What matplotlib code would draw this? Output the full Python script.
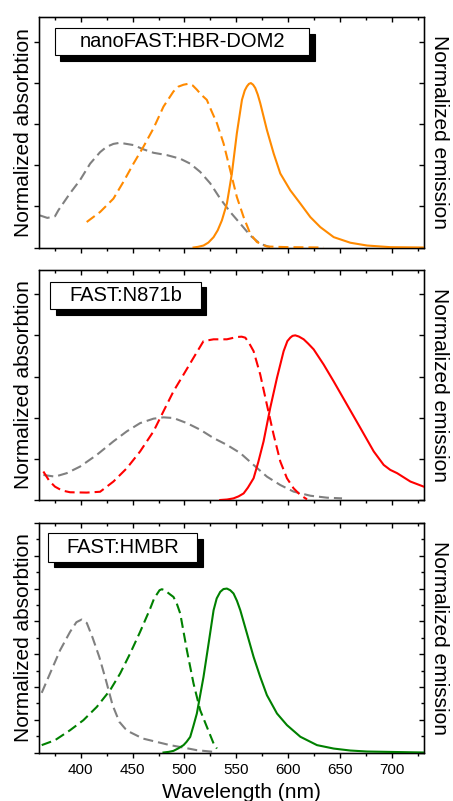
import matplotlib
matplotlib.use("Agg")
import matplotlib.pyplot as plt
from matplotlib.patches import Rectangle
from matplotlib.ticker import MultipleLocator

plt.rcParams['font.family'] = ['Liberation Sans', 'DejaVu Sans']

# ---------------- data ----------------
titles = ["nanoFAST:HBR-DOM2", "FAST:N871b", "FAST:HMBR"]

# Panel 1: nanoFAST:HBR-DOM2
p1_gray_x = [361.0, 368.0, 375.4, 378.6, 389.9, 399.5, 409.2, 418.8, 425.0, 431.6, 437.0, 441.3, 450.9,
             460.5, 470.2, 483.0, 495.9, 505.5, 515.1, 524.8, 534.4, 544.0, 553.7, 563.3, 572.9, 582.5]
p1_gray_y = [0.195, 0.180, 0.190, 0.226, 0.330, 0.410, 0.510, 0.580, 0.612, 0.630, 0.636, 0.633, 0.623,
             0.597, 0.576, 0.562, 0.540, 0.510, 0.460, 0.390, 0.297, 0.216, 0.145, 0.073, 0.022, 0.002]
p1_abs_x = [405.9, 418.8, 431.6, 441.3, 450.9, 460.5, 470.2, 479.8, 489.4, 494.0, 499.1, 503.9, 508.0,
            511.9, 516.0, 521.5, 526.0, 531.2, 537.6, 544.0, 550.4, 556.9, 563.3, 569.7, 579.3,
            600.0, 633.9]
p1_abs_y = [0.155, 0.216, 0.297, 0.400, 0.510, 0.613, 0.725, 0.857, 0.949, 0.978, 0.990, 0.996, 0.985,
            0.960, 0.930, 0.898, 0.830, 0.756, 0.633, 0.470, 0.307, 0.185, 0.083, 0.033, 0.006,
            0.002, 0.0]
p1_em_x = [508.7, 513.0, 518.3, 523.0, 528.0, 532.0, 536.0, 540.8, 543.0, 545.6, 550.4, 555.3, 558.0,
           560.1, 562.0, 563.9, 566.0, 568.1, 570.5, 572.9, 579.3, 585.8, 592.2, 601.8, 611.5,
           621.1, 630.7, 643.6, 659.6, 675.7, 698.1, 730.3]
p1_em_y = [0.0, 0.004, 0.012, 0.030, 0.063, 0.105, 0.165, 0.267, 0.350, 0.450, 0.695, 0.898, 0.955,
           0.980, 0.995, 1.0, 0.990, 0.970, 0.930, 0.878, 0.715, 0.572, 0.450, 0.348, 0.267,
           0.185, 0.124, 0.063, 0.029, 0.012, 0.002, 0.0]

# Panel 2: FAST:N871b
p2_gray_x = [364.2, 375.4, 386.7, 399.5, 415.6, 431.6, 444.5, 457.3, 470.2, 479.8, 489.4, 502.3,
             515.1, 528.0, 540.8, 553.7, 566.5, 579.3, 592.2, 605.0, 621.1, 637.2, 651.6]
p2_gray_y = [0.152, 0.142, 0.163, 0.203, 0.274, 0.356, 0.417, 0.467, 0.494, 0.502, 0.498, 0.467,
             0.427, 0.376, 0.335, 0.285, 0.213, 0.142, 0.091, 0.051, 0.026, 0.014, 0.010]
p2_abs_x = [364.2, 370.0, 375.4, 382.0, 389.9, 405.9, 418.8, 431.6, 444.5, 457.3, 470.2, 479.8,
            489.4, 499.1, 508.7, 518.3, 528.0, 540.8, 550.4, 555.0, 558.5, 562.0, 566.5, 572.9,
            579.3, 585.8, 592.2, 598.6, 605.0, 611.5, 617.9]
p2_abs_y = [0.173, 0.115, 0.081, 0.058, 0.047, 0.045, 0.050, 0.112, 0.193, 0.295, 0.417, 0.539,
            0.660, 0.762, 0.864, 0.965, 0.976, 0.976, 0.990, 0.992, 0.986, 0.955, 0.904, 0.762,
            0.579, 0.396, 0.234, 0.132, 0.071, 0.030, 0.004]
p2_em_x = [534.4, 541.0, 547.2, 552.0, 556.9, 561.0, 566.5, 571.0, 576.1, 582.5, 589.0, 595.4,
           599.0, 601.8, 604.0, 606.6, 610.0, 614.7, 619.0, 624.3, 633.9, 643.6, 656.4, 669.3,
           682.1, 691.7, 698.0, 704.6, 717.4, 730.3]
p2_em_y = [0.0, 0.003, 0.010, 0.022, 0.040, 0.075, 0.132, 0.230, 0.356, 0.559, 0.742, 0.904,
           0.965, 0.986, 0.997, 1.0, 0.993, 0.976, 0.950, 0.915, 0.823, 0.720, 0.579, 0.437,
           0.295, 0.213, 0.183, 0.163, 0.112, 0.081]

# Panel 3: FAST:HMBR
p3_gray_x = [362.6, 370.6, 380.3, 389.9, 396.0, 401.0, 406.0, 411.6, 418.0, 424.4, 430.8, 437.3,
             443.0, 447.0, 460.0, 473.0, 486.0, 499.0, 512.0, 528.0]
p3_gray_y = [0.364, 0.482, 0.624, 0.736, 0.795, 0.811, 0.790, 0.700, 0.583, 0.441, 0.289, 0.187,
             0.145, 0.126, 0.085, 0.065, 0.045, 0.030, 0.014, 0.004]
p3_abs_x = [362.6, 375.4, 389.9, 402.7, 415.6, 428.4, 438.1, 447.7, 457.3, 467.0, 470.5, 473.4,
            476.0, 478.2, 481.0, 483.0, 486.0, 489.4, 492.5, 495.9, 502.3, 508.7, 515.1, 521.5,
            528.0, 531.2]
p3_abs_y = [0.045, 0.075, 0.136, 0.197, 0.278, 0.380, 0.482, 0.604, 0.736, 0.878, 0.935, 0.965,
            0.990, 0.996, 0.990, 0.980, 0.965, 0.949, 0.910, 0.848, 0.624, 0.421, 0.258, 0.157,
            0.055, 0.024]
p3_em_x = [479.8, 485.0, 489.4, 494.0, 499.1, 502.0, 505.5, 508.5, 511.9, 518.3, 523.2, 528.0,
           531.0, 534.4, 537.5, 540.8, 544.0, 547.2, 550.5, 553.7, 560.1, 566.5, 572.9, 579.3,
           589.0, 598.6, 611.5, 627.5, 643.6, 659.6, 675.7, 730.3]
p3_em_y = [0.0, 0.004, 0.010, 0.025, 0.045, 0.065, 0.095, 0.160, 0.238, 0.461, 0.665, 0.868,
           0.940, 0.980, 0.997, 1.0, 0.990, 0.970, 0.925, 0.868, 0.726, 0.583, 0.461, 0.350,
           0.238, 0.167, 0.096, 0.045, 0.024, 0.012, 0.006, 0.0]

x_ticklabels = ["400", "450", "500", "550", "600", "650", "700"]

panels = [
    (p1_gray_x, p1_gray_y, p1_abs_x, p1_abs_y, p1_em_x, p1_em_y),
    (p2_gray_x, p2_gray_y, p2_abs_x, p2_abs_y, p2_em_x, p2_em_y),
    (p3_gray_x, p3_gray_y, p3_abs_x, p3_abs_y, p3_em_x, p3_em_y),
]

# ---------------- styling ----------------
colors = ['#FF8A00', '#FF0000', '#008000']
gray = '#808080'
W, H = 453, 801
left_px, right_px = 39, 423.5
ax_px = [(17.3, 247.5), (269.5, 500.0), (523.0, 752.5)]
box_px = [(55, 28.3, 309.3, 55.0), (50, 281.7, 200.7, 309.3), (48.3, 533.3, 197.3, 561.7)]
ytick_major = [0.25, 0.25, 0.2]
ytick_minor = [None, None, 0.1]

fig = plt.figure(figsize=(W / 100, H / 100), dpi=100)

dash = (4.8, 2.4)
for i, (gx, gy, axx, ayy, ex, ey) in enumerate(panels):
    top, bot = ax_px[i]
    ax = fig.add_axes([left_px / W, 1 - bot / H, (right_px - left_px) / W, (bot - top) / H])
    ax.plot(gx, gy, color=gray, lw=1.5, linestyle=(0, dash), zorder=2)
    ax.plot(axx, ayy, color=colors[i], lw=1.5, linestyle=(0, dash), zorder=3)
    ax.plot(ex, ey, color=colors[i], lw=1.5, zorder=3)
    ax.set_xlim(360, 730)
    ax.set_ylim(0, 1.40)
    ax.xaxis.set_major_locator(MultipleLocator(50))
    ax.xaxis.set_minor_locator(MultipleLocator(25))
    ax.yaxis.set_major_locator(MultipleLocator(ytick_major[i]))
    if ytick_minor[i]:
        ax.yaxis.set_minor_locator(MultipleLocator(ytick_minor[i]))
    ax.tick_params(which='both', direction='out', width=1.0, top=False, right=False, labelleft=False)
    ax.tick_params(which='major', length=3.4)
    ax.tick_params(which='minor', length=2.3)
    ax.tick_params(axis='x', which='major', pad=4, labelsize=11)
    if i < 2:
        ax.tick_params(axis='x', labelbottom=False)
    else:
        ax.set_xticks([400, 450, 500, 550, 600, 650, 700])
        ax.set_xticklabels(x_ticklabels)
    for s in ax.spines.values():
        s.set_linewidth(1.0)

    # mirrored inward ticks on top and right
    axt = ax.twiny()
    axt.set_xlim(ax.get_xlim())
    axt.xaxis.set_major_locator(MultipleLocator(50))
    axt.xaxis.set_minor_locator(MultipleLocator(25))
    axt.tick_params(which='both', direction='in', width=1.0, labeltop=False)
    axt.tick_params(which='major', length=3.4)
    axt.tick_params(which='minor', length=2.3)
    axr = ax.twinx()
    axr.set_ylim(ax.get_ylim())
    axr.yaxis.set_major_locator(MultipleLocator(ytick_major[i]))
    if ytick_minor[i]:
        axr.yaxis.set_minor_locator(MultipleLocator(ytick_minor[i]))
    axr.tick_params(which='both', direction='in', width=1.0, labelright=False)
    axr.tick_params(which='major', length=3.4)
    axr.tick_params(which='minor', length=2.3)

    # axis labels
    ax.text((24 - left_px) / (right_px - left_px), 0.5, "Normalized absorbtion", rotation=90,
            ha='center', va='center', fontsize=15, transform=ax.transAxes)
    ax.text((439 - left_px) / (right_px - left_px), 0.5, "Normalized emission", rotation=-90,
            ha='center', va='center', fontsize=15, transform=ax.transAxes)

    # legend-like title box with drop shadow
    bx0, by0, bx1, by1 = box_px[i]
    off = 5.5
    fig.add_artist(Rectangle(((bx0 + off) / W, 1 - (by1 + off) / H), (bx1 - bx0) / W, (by1 - by0) / H,
                             transform=fig.transFigure, facecolor='black', edgecolor='black',
                             lw=0.8, zorder=10))
    fig.add_artist(Rectangle((bx0 / W, 1 - by1 / H), (bx1 - bx0) / W, (by1 - by0) / H,
                             transform=fig.transFigure, facecolor='white', edgecolor='black',
                             lw=0.8, zorder=11))
    fig.text((bx0 + bx1) / 2 / W, 1 - (by0 + by1) / 2 / H, titles[i], ha='center', va='center',
             fontsize=14.5, zorder=12)

fig.text(241.7 / W, 1 - 798.3 / H, "Wavelength (nm)", ha='center', va='baseline', fontsize=15)

fig.savefig("out.png", dpi=100)
